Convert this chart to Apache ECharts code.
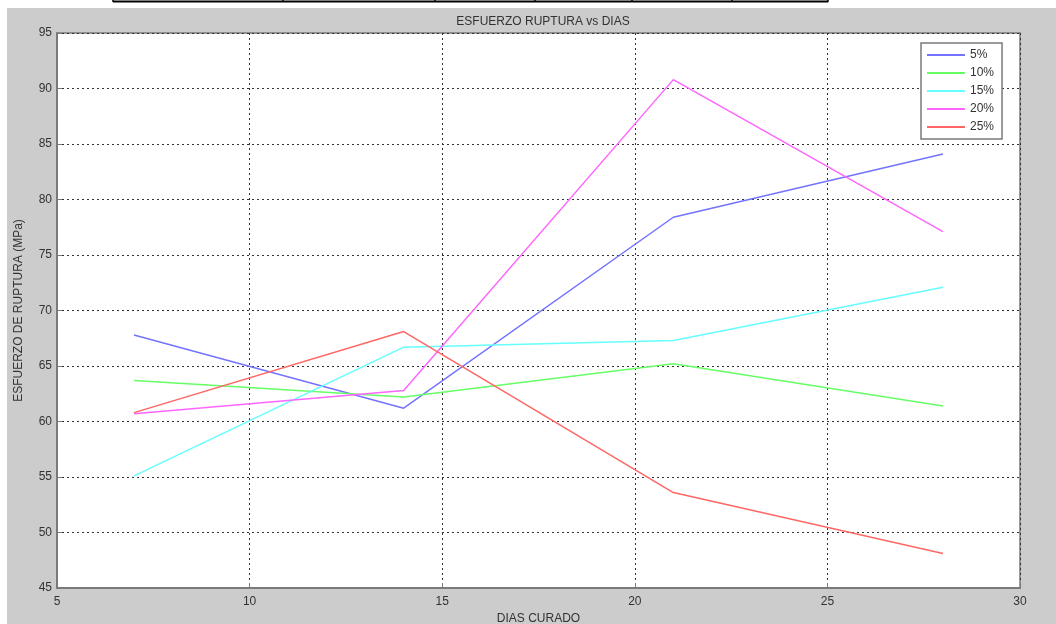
<!DOCTYPE html>
<html>
<head>
<meta charset="utf-8">
<script src="https://cdn.jsdelivr.net/npm/echarts@6/dist/echarts.min.js"></script>
<style>
html,body{margin:0;padding:0;background:#fff;}
#c{width:1056px;height:624px;}
</style>
</head>
<body>
<div id="c"></div>
<script>
const days = [7, 14, 21, 28];
const seriesNames = ['5%', '10%', '15%', '20%', '25%'];
const s5 = [67.8, 61.2, 78.4, 84.1];
const s10 = [63.7, 62.2, 65.2, 61.4];
const s15 = [55.1, 66.7, 67.3, 72.1];
const s20 = [60.7, 62.8, 90.8, 77.1];
const s25 = [60.8, 68.1, 53.6, 48.1];
const colors = ['#7373ff', '#66ff66', '#66ffff', '#ff66ff', '#ff6666'];
const allValues = [s5, s10, s15, s20, s25];

const chart = echarts.init(document.getElementById('c'), null, {renderer: 'canvas'});
const font = '"Liberation Sans Narrow", "Liberation Sans", Arial, sans-serif';

const series = seriesNames.map((n, i) => ({
  name: n,
  type: 'line',
  data: days.map((d, j) => [d, allValues[i][j]]),
  showSymbol: false,
  symbol: 'none',
  lineStyle: {color: colors[i], width: 1.5},
  itemStyle: {color: colors[i]},
  z: 3
}));

const tableX = [113, 283, 435, 535, 632, 732, 828];
const graphics = [
  {type: 'rect', shape: {x: 7, y: 8, width: 1049, height: 616}, style: {fill: '#cccccc'}, z: -10, silent: true},
  {type: 'line', shape: {x1: 113, y1: 1.5, x2: 828, y2: 1.5}, style: {stroke: '#000', lineWidth: 2}, silent: true}
].concat(tableX.map(x => ({type: 'line', shape: {x1: x, y1: 0, x2: x, y2: 2}, style: {stroke: '#000', lineWidth: 1.5}, silent: true})));

chart.setOption({
  animation: false,
  backgroundColor: 'transparent',
  graphic: graphics,
  title: {
    text: 'ESFUERZO RUPTURA vs DIAS',
    left: 538, top: 11, textAlign: 'center',
    textStyle: {fontFamily: font, fontSize: 12, fontWeight: 'normal', color: '#333'}
  },
  grid: {
    left: 57, right: 36, top: 33, bottom: 36,
    containLabel: false, outerBoundsMode: 'none',
    show: true, backgroundColor: '#ffffff', borderColor: '#7a7a7a', borderWidth: 1.5
  },
  legend: {
    orient: 'vertical',
    left: 921, top: 43,
    data: seriesNames,
    backgroundColor: '#ffffff',
    borderColor: '#7a7a7a', borderWidth: 1.5, borderRadius: 0,
    padding: [6, 8, 6, 6],
    itemWidth: 38, itemHeight: 2, itemGap: 6,
    icon: 'rect',
    textStyle: {fontFamily: font, fontSize: 12, color: '#333'}
  },
  xAxis: {
    type: 'value', min: 5, max: 30, interval: 5,
    name: 'DIAS CURADO', nameLocation: 'middle', nameGap: 22,
    nameTextStyle: {fontFamily: font, fontSize: 12, color: '#333'},
    axisLine: {show: true, lineStyle: {color: '#7a7a7a', width: 2}},
    axisTick: {show: true, inside: true, length: 5, lineStyle: {color: '#7a7a7a'}},
    axisLabel: {fontFamily: font, fontSize: 12, color: '#333', margin: 8},
    splitLine: {show: true, lineStyle: {color: '#333', type: [2, 3], width: 1}}
  },
  yAxis: {
    type: 'value', min: 45, max: 95, interval: 5,
    name: 'ESFUERZO DE RUPTURA (MPa)', nameLocation: 'middle', nameGap: 32,
    nameTextStyle: {fontFamily: font, fontSize: 12, color: '#333'},
    axisLine: {show: true, lineStyle: {color: '#7a7a7a', width: 2}},
    axisTick: {show: true, inside: true, length: 5, lineStyle: {color: '#7a7a7a'}},
    axisLabel: {fontFamily: font, fontSize: 12, color: '#333', margin: 5},
    splitLine: {show: true, lineStyle: {color: '#333', type: [2, 3], width: 1}}
  },
  series: series
});
</script>
</body>
</html>
